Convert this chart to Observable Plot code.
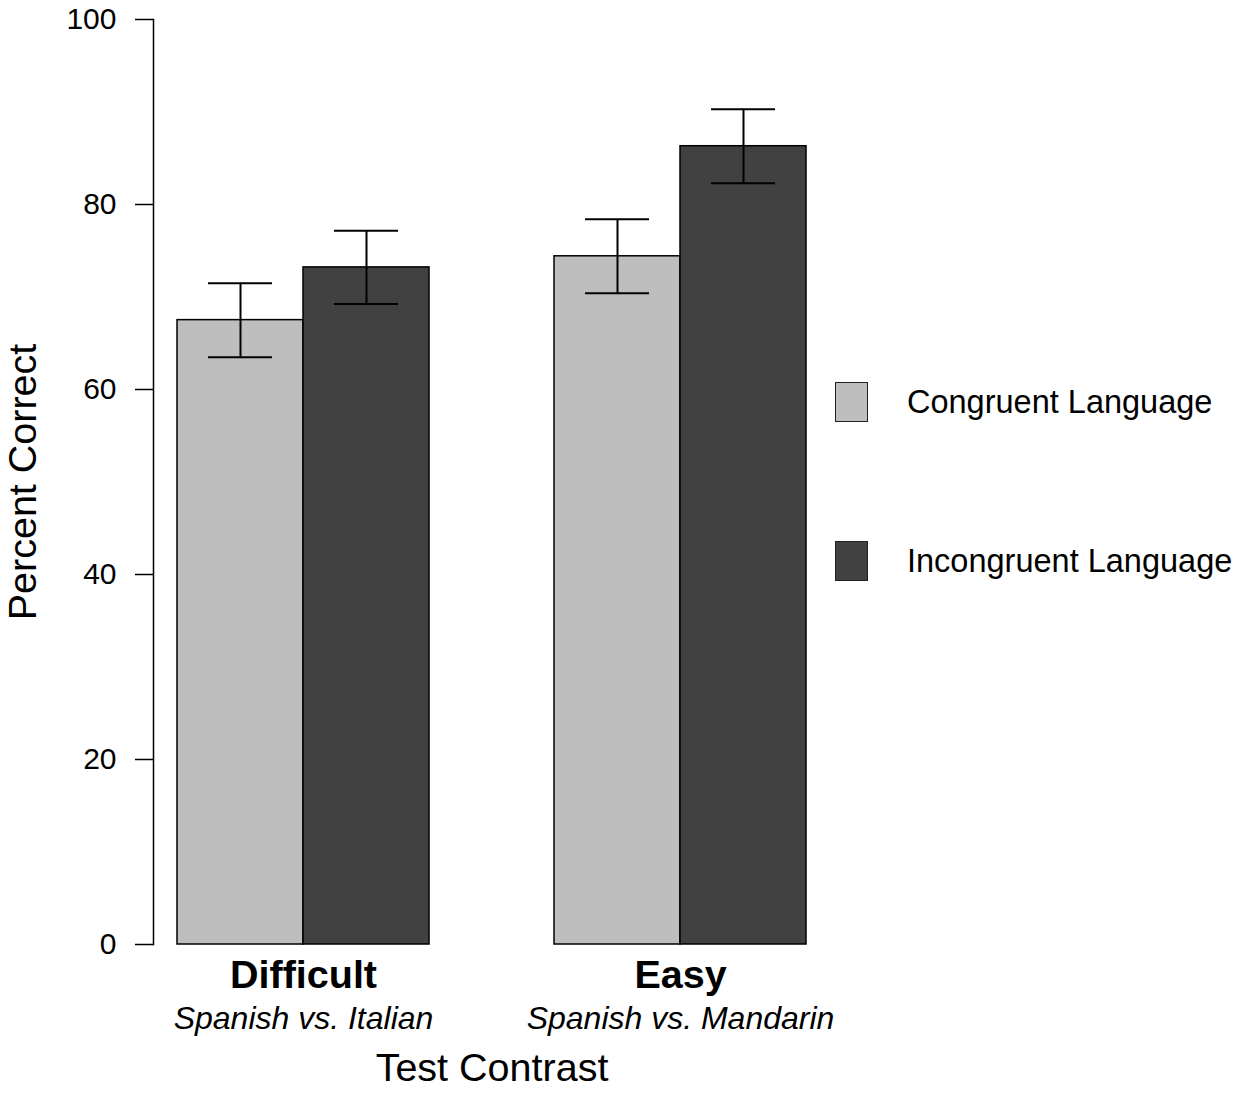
<!DOCTYPE html>
<html><head><meta charset="utf-8">
<script src="https://cdn.jsdelivr.net/npm/d3@7"></script>
<script src="https://cdn.jsdelivr.net/npm/@observablehq/plot@0.6"></script>
<style>
body{margin:0;background:#fff;font-family:"Liberation Sans",Arial,Helvetica,sans-serif;}
#wrap{position:relative;width:1254px;height:1102px;overflow:hidden;}
#wrap svg{position:absolute;left:0;top:0;}
.item{position:absolute;left:835px;display:flex;align-items:center;height:40px;}
.sw{width:31px;height:38px;border:1.5px solid #222;box-sizing:content-box;}
.lab{margin-left:39px;font-size:32.5px;color:#000;white-space:nowrap;}
</style></head><body><div id="wrap"></div>
<script>
const groups = ["Difficult", "Easy"];
const subtitles = ["Spanish vs. Italian", "Spanish vs. Mandarin"];
const conditions = ["Congruent Language", "Incongruent Language"];
const congruent = [67.5, 74.4];
const incongruent = [73.2, 86.3];
const errCongruent = [4.0, 4.0];
const errIncongruent = [3.95, 4.0];
const yTicks = [0, 20, 40, 60, 80, 100];
const colors = ["#bebebe", "#414141"];

const series = [congruent, incongruent];
const errs = [errCongruent, errIncongruent];
const data = [];
groups.forEach((g, gi) => conditions.forEach((c, ci) => {
  const v = series[ci][gi], e = errs[ci][gi];
  data.push({group: g, condition: c, value: v, lo: v - e, hi: v + e});
}));
const subOf = new Map(groups.map((g, i) => [g, subtitles[i]]));

const font = '"Liberation Sans", Arial, Helvetica, sans-serif';
const chart = Plot.plot({
  width: 1254, height: 1102,
  marginTop: 19, marginBottom: 158, marginLeft: 153, marginRight: 424,
  style: {fontFamily: font, color: "#000", background: "transparent"},
  fx: {domain: groups, paddingInner: 77 / 377, paddingOuter: 0, axis: null, label: null},
  x: {domain: conditions, padding: 0, insetLeft: 24, insetRight: 24, axis: null},
  y: {domain: [0, 100], axis: null},
  color: {domain: conditions, range: colors},
  marks: [
    Plot.barY(data, {fx: "group", x: "condition", y: "value", fill: "condition", stroke: "#000", strokeWidth: 1.5}),
    Plot.ruleX(data, {fx: "group", x: "condition", y1: "lo", y2: "hi", stroke: "#000", strokeWidth: 2}),
    Plot.tickY(data, {fx: "group", x: "condition", y: "lo", stroke: "#000", strokeWidth: 2, insetLeft: 31, insetRight: 31}),
    Plot.tickY(data, {fx: "group", x: "condition", y: "hi", stroke: "#000", strokeWidth: 2, insetLeft: 31, insetRight: 31}),
    Plot.frame({anchor: "left", facetAnchor: "left", stroke: "#000", strokeWidth: 1.5}),
    Plot.axisY({ticks: yTicks, tickSize: 18, tickPadding: 19, fontSize: 30, label: null, strokeWidth: 1.5}),
    Plot.axisY({ticks: [], tickSize: 0, label: "Percent Correct", labelAnchor: "center", labelArrow: "none", labelOffset: 146, fontSize: 39.5}),
    Plot.axisFx({anchor: "bottom", tickSize: 0, tickPadding: 15, fontSize: 39.5, fontWeight: "bold", label: null}),
    Plot.axisFx({anchor: "bottom", tickSize: 0, tickPadding: 62, fontSize: 32, fontStyle: "italic", tickFormat: d => subOf.get(d), label: null}),
    Plot.axisFx({anchor: "bottom", ticks: [], tickSize: 0, label: "Test Contrast", labelAnchor: "center", labelArrow: "none", labelOffset: 136, fontSize: 39.5})
  ]
});
const wrap = document.getElementById("wrap");
wrap.appendChild(chart);
conditions.forEach((c, i) => {
  const it = document.createElement("div");
  it.className = "item";
  it.style.top = (382 + i * 159) + "px";
  const sw = document.createElement("div");
  sw.className = "sw"; sw.style.background = colors[i];
  const lab = document.createElement("div");
  lab.className = "lab"; lab.textContent = c;
  it.appendChild(sw); it.appendChild(lab);
  wrap.appendChild(it);
});
</script></body></html>
